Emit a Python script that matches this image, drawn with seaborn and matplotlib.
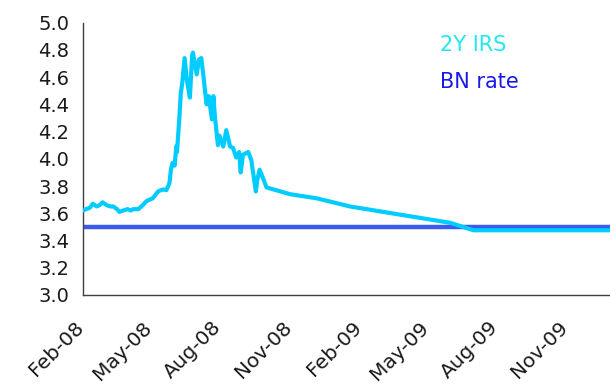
import matplotlib
matplotlib.use("Agg")
import matplotlib.pyplot as plt
import matplotlib.dates as mdates
import matplotlib.transforms as mtransforms
import pandas as pd
import seaborn as sns

# 2Y interest rate swap, daily fixes through the 2008 spike, sparser afterwards
irs_dates = [
    "2008-02-01", "2008-02-05", "2008-02-10", "2008-02-14", "2008-02-19", "2008-02-23",
    "2008-02-27", "2008-03-03", "2008-03-08", "2008-03-12", "2008-03-17", "2008-03-20",
    "2008-03-25", "2008-03-31", "2008-04-04", "2008-04-07", "2008-04-14", "2008-04-20",
    "2008-04-25", "2008-04-29", "2008-05-03", "2008-05-06", "2008-05-10", "2008-05-14",
    "2008-05-17", "2008-05-21", "2008-05-25", "2008-05-27", "2008-05-29", "2008-06-01",
    "2008-06-03", "2008-06-04", "2008-06-07", "2008-06-09", "2008-06-11", "2008-06-14",
    "2008-06-17", "2008-06-21", "2008-06-24", "2008-06-25", "2008-06-30", "2008-07-03",
    "2008-07-06", "2008-07-08", "2008-07-09", "2008-07-13", "2008-07-16", "2008-07-20",
    "2008-07-22", "2008-07-24", "2008-07-28", "2008-07-30", "2008-08-04", "2008-08-08",
    "2008-08-13", "2008-08-17", "2008-08-21", "2008-08-25", "2008-08-27", "2008-08-30",
    "2008-09-06", "2008-09-10", "2008-09-16", "2008-09-18", "2008-09-21", "2008-09-26",
    "2008-09-30", "2008-10-31", "2008-12-05", "2009-01-18", "2009-03-03", "2009-04-16",
    "2009-05-30", "2009-06-30", "2009-09-30", "2009-12-27",
]
irs_values = [
    3.62, 3.63, 3.64, 3.67, 3.65, 3.66,
    3.68, 3.66, 3.65, 3.65, 3.63, 3.61,
    3.62, 3.63, 3.62, 3.63, 3.63, 3.66,
    3.69, 3.70, 3.71, 3.73, 3.76, 3.77,
    3.775, 3.77, 3.82, 3.92, 3.97, 3.95,
    4.09, 4.05, 4.29, 4.48, 4.56, 4.74,
    4.58, 4.45, 4.76, 4.78, 4.62, 4.73,
    4.74, 4.65, 4.60, 4.40, 4.46, 4.29,
    4.46, 4.31, 4.10, 4.17, 4.09, 4.21,
    4.09, 4.08, 4.01, 4.05, 3.90, 4.03,
    4.05, 3.99, 3.76, 3.85, 3.92, 3.85,
    3.79, 3.74, 3.71, 3.65, 3.61, 3.57,
    3.53, 3.475, 3.475, 3.475,
]

# Policy rate
bn_dates = ["2008-02-01", "2009-12-27"]
bn_values = [3.50, 3.50]

y_ticks = [3.0, 3.2, 3.4, 3.6, 3.8, 4.0, 4.2, 4.4, 4.6, 4.8, 5.0]
x_tick_dates = ["2008-02-01", "2008-05-01", "2008-08-01", "2008-11-01",
                "2009-02-01", "2009-05-01", "2009-08-01", "2009-11-01"]

irs = pd.DataFrame({"date": pd.to_datetime(irs_dates), "rate": irs_values})
bn = pd.DataFrame({"date": pd.to_datetime(bn_dates), "rate": bn_values})

sns.set_theme(style="white")
plt.rcParams["font.family"] = ["DejaVu Sans"]

fig = plt.figure(figsize=(6.10, 3.85), dpi=100)
ax = fig.add_axes([0.136, 0.234, 0.864, 0.707])

cyan = "#00CCFF"
blue = "#3A5CEE"

sns.lineplot(data=bn, x="date", y="rate", ax=ax, color=blue, linewidth=3.2, zorder=2)
sns.lineplot(data=irs, x="date", y="rate", ax=ax, color=cyan, linewidth=3.0, zorder=3)

ax.set_xlim(pd.Timestamp("2008-02-01"), pd.Timestamp("2009-12-27"))
ax.set_ylim(3.0, 5.0)
ax.set_yticks(y_ticks)
ax.set_yticklabels([f"{v:.1f}" for v in y_ticks])
ax.set_xticks(pd.to_datetime(x_tick_dates))
ax.xaxis.set_major_formatter(mdates.DateFormatter("%b-%y"))
ax.set_xlabel("")
ax.set_ylabel("")

ax.tick_params(axis="both", which="major", direction="out", length=5, width=1,
               color="#404040", labelcolor="#1a1a1a")
ax.tick_params(axis="x", pad=11.5, labelsize=14.5)
ax.tick_params(axis="y", pad=5, labelsize=14)

# slanted month labels, nudged left of their ticks
shift = mtransforms.ScaledTranslation(-9 / 100, 0, fig.dpi_scale_trans)
for lab in ax.get_xticklabels():
    lab.set_rotation(45)
    lab.set_ha("right")
    lab.set_rotation_mode("anchor")
    lab.set_transform(lab.get_transform() + shift)

sns.despine(ax=ax, top=True, right=True)
for side in ("left", "bottom"):
    ax.spines[side].set_color("#404040")
    ax.spines[side].set_linewidth(1)

fig.text(0.722, 0.883, "2Y IRS", color="#22E8F2", fontsize=15, va="center", ha="left")
fig.text(0.722, 0.787, "BN rate", color="#1A1AE6", fontsize=15, va="center", ha="left")

fig.savefig("out.png", dpi=100)
